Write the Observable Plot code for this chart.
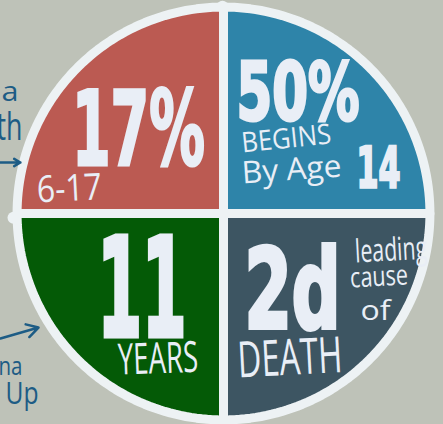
<!DOCTYPE html>
<html><head><meta charset="utf-8">
<script src="https://cdn.jsdelivr.net/npm/d3@7"></script>
<script src="https://cdn.jsdelivr.net/npm/@observablehq/plot@0.6"></script>
<style>
html,body{margin:0;padding:0;background:#bec2b8;overflow:hidden;}
</style></head><body><div id="chart"></div>
<script>
// ---- data ----
const sliceNames = ["Begins by age 14", "2d leading cause of death", "11 years", "17% ages 6-17"];
const sliceShares = [25, 25, 25, 25];
const sliceColors = ["#2e84a9", "#3d5562", "#045a06", "#bb5a52"];
const bigLabels = ["17%", "50%", "14", "11", "2d"];
const smallLabels = ["6-17", "BEGINS", "By Age", "YEARS", "DEATH", "leading", "cause", "of"];
const sideLabels = ["a", "th", "na", "Up"];

// ---- layout (data units, pie radius = 1) ----
const bigLayout = [
  {x: -0.722, y: 0.233, size: 104, w: 133, sw: 3},
  {x: 0.062, y: 0.447, size: 80, w: 123, sw: 3},
  {x: 0.633, y: 0.123, size: 57, w: 44, sw: 2.5},
  {x: -0.600, y: -0.583, size: 138, w: 89, sw: 5},
  {x: 0.100, y: -0.545, size: 110, w: 96, sw: 4}
];
const smallLayout = [
  {x: -0.886, y: 0.052, size: 37, w: 65, r: -3},
  {x: 0.090, y: 0.290, size: 28, w: 90, r: -6},
  {x: 0.090, y: 0.143, size: 31, w: 100, r: -4},
  {x: -0.500, y: -0.767, size: 43, w: 80, r: -2},
  {x: 0.071, y: -0.781, size: 50, w: 105, r: -3},
  {x: 0.629, y: -0.233, size: 32, w: 72, r: -3},
  {x: 0.605, y: -0.352, size: 28, w: 58, r: -3},
  {x: 0.652, y: -0.505, size: 28, w: 30, r: 0}
];
const sideLayout = [
  {x: -0.976, y: 0.538, size: 28, w: 17},
  {x: -0.957, y: 0.348, size: 38, w: 26},
  {x: -0.957, y: -0.771, size: 26, w: 24},
  {x: -0.881, y: -0.905, size: 31, w: 33}
];
const arrows = [
  {x1: -1.07, y1: 0.243, x2: -0.967, y2: 0.243},
  {x1: -1.062, y1: -0.595, x2: -0.881, y2: -0.543}
];

// ---- geometry from pie ----
const pie = d3.pie().sort(null).value((d, i) => sliceShares[i])(sliceNames);
const R = 0.983;
const slicePts = [];
pie.forEach((p, i) => {
  slicePts.push({slice: sliceNames[i], x: 0, y: 0});
  const n = 60;
  for (let k = 0; k <= n; k++) {
    const a = p.startAngle + (p.endAngle - p.startAngle) * k / n;
    slicePts.push({slice: sliceNames[i], x: R * Math.sin(a), y: R * Math.cos(a)});
  }
});
const discPts = d3.range(0, 360, 2).map(t => ({x: Math.sin(t * Math.PI / 180), y: Math.cos(t * Math.PI / 180)}));

const WHITE = "#edf2f4";
const TXT = "#e9eef6";
const BLUE = "#1d5c85";

const big = bigLabels.map((t, i) => ({t, ...bigLayout[i]}));
const small = smallLabels.map((t, i) => ({t, ...smallLayout[i]}));
const side = sideLabels.map((t, i) => ({t, ...sideLayout[i]}));

const svg = Plot.plot({
  width: 443, height: 424,
  marginLeft: 13, marginRight: 10, marginTop: 3, marginBottom: 1,
  x: {domain: [-1, 1], axis: null},
  y: {domain: [-1, 1], axis: null},
  color: {domain: sliceNames, range: sliceColors},
  style: {background: "transparent", overflow: "visible"},
  marks: [
    Plot.line(discPts, {x: "x", y: "y", fill: WHITE, stroke: "none", curve: "linear-closed"}),
    Plot.dot([{x: -0.005, y: 0.985}, {x: -1.0, y: -0.02}], {x: "x", y: "y", r: 6, fill: WHITE}),
    Plot.line(slicePts, {x: "x", y: "y", z: "slice", fill: "slice", stroke: WHITE, strokeWidth: 9, strokeLinejoin: "round", curve: "linear-closed"}),
    Plot.text(big, {x: "x", y: "y", text: "t", fontSize: "size", textAnchor: "start", lineAnchor: "bottom",
      fill: TXT, stroke: TXT, strokeWidth: "sw", strokeLinejoin: "miter",
      fontWeight: "bold", fontFamily: "'Liberation Sans Narrow', 'DejaVu Sans Condensed', 'DejaVu Sans', sans-serif"}),
    Plot.text(small, {x: "x", y: "y", text: "t", fontSize: "size", rotate: "r", textAnchor: "start", lineAnchor: "bottom",
      fill: TXT, fontWeight: 400, fontFamily: "'Open Sans', sans-serif"}),
    Plot.text(side, {x: "x", y: "y", text: "t", fontSize: "size", textAnchor: "end", lineAnchor: "bottom",
      fill: BLUE, fontWeight: 400, fontFamily: "'Open Sans', sans-serif"}),
    Plot.arrow(arrows, {x1: "x1", y1: "y1", x2: "x2", y2: "y2", stroke: BLUE, strokeWidth: 2.5, headLength: 10})
  ]
});

const groups = svg.querySelectorAll('g[aria-label="text"]');
const layouts = [bigLayout, smallLayout, sideLayout];
groups.forEach((g, gi) => {
  g.querySelectorAll("text").forEach((el, i) => {
    el.setAttribute("textLength", layouts[gi][i].w);
    el.setAttribute("lengthAdjust", "spacingAndGlyphs");
  });
});
document.getElementById("chart").appendChild(svg);
</script></body></html>
